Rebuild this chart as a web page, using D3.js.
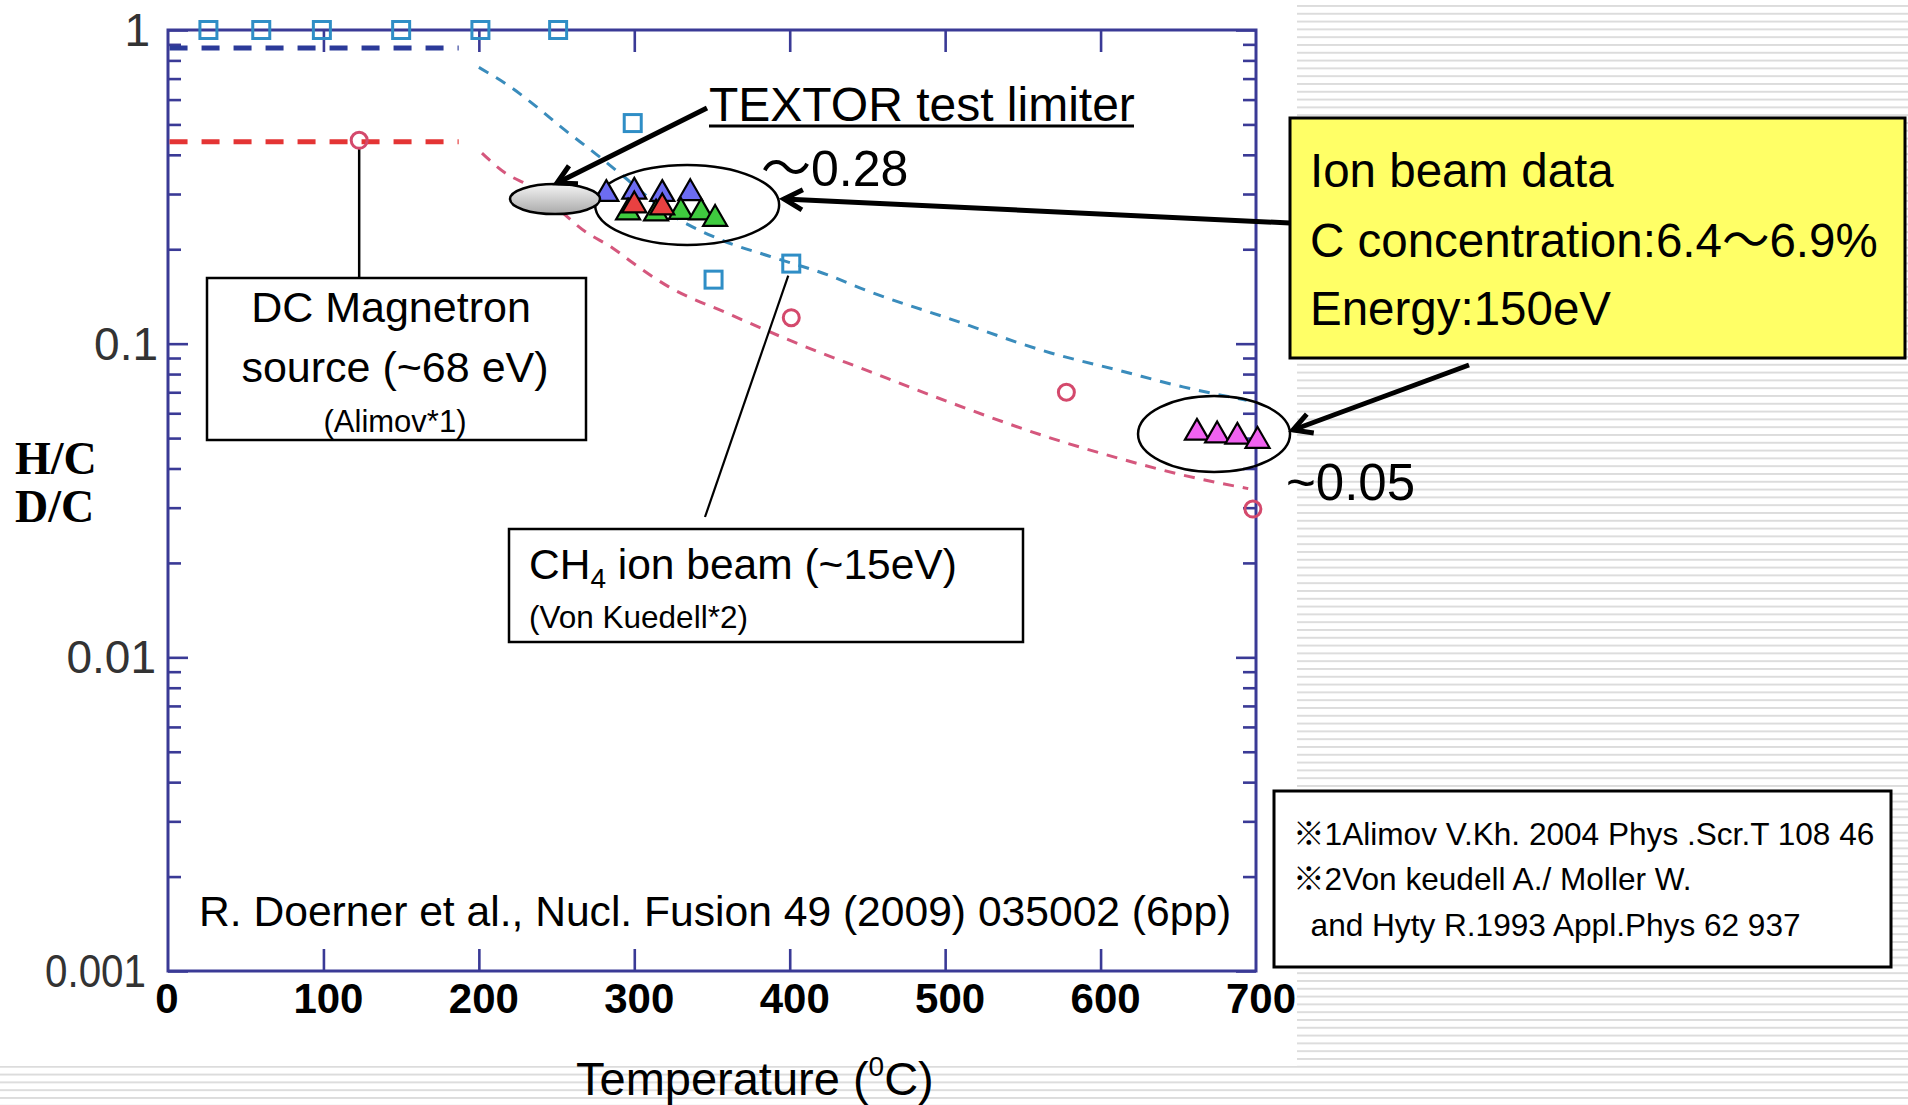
<!DOCTYPE html>
<html>
<head>
<meta charset="utf-8">
<script src="https://cdn.jsdelivr.net/npm/d3@7"></script>
<style>
  html, body { margin: 0; padding: 0; background: #fff; }
  svg { display: block; }
  text { font-family: "Liberation Sans", Arial, "Noto Sans CJK JP", sans-serif; }
</style>
</head>
<body>
<svg id="chart" width="1908" height="1105"></svg>
<script>
// ---------- axis ticks ----------
const xTickValues = [0, 100, 200, 300, 400, 500, 600, 700];
const yTickValues = [1, 0.1, 0.01, 0.001];
const yTickLabels = ["1", "0.1", "0.01", "0.001"];

// ---------- CH4 ion beam data (squares: H/C, circles: D/C) ----------
const squareTemps  = [26, 60, 99, 150, 201, 251, 299, 351, 401];
const squareValues = [1.0, 1.0, 1.0, 1.0, 1.0, 1.0, 0.505, 0.16, 0.18];
const circleTemps  = [123, 401, 578, 698];
const circleValues = [0.445, 0.121, 0.070, 0.0297];

// ---------- DC magnetron levels (flat below 200 C) ----------
const flatTemps  = [1, 187];
const flatHValue = 0.876;
const flatDValue = 0.44;

// ---------- trend curves above 200 C ----------
const upperCurveTemps  = [200, 220, 237, 253, 276, 292, 320, 355, 387, 424, 449, 503, 568, 611, 653, 694];
const upperCurveValues = [0.76, 0.66, 0.57, 0.49, 0.40, 0.345, 0.265, 0.215, 0.19, 0.166, 0.148, 0.12, 0.0934, 0.0824, 0.0728, 0.066];
const lowerCurveTemps  = [202, 217, 234, 270, 286, 299, 322, 360, 401, 450, 503, 568, 611, 653, 695];
const lowerCurveValues = [0.405, 0.35, 0.316, 0.225, 0.202, 0.181, 0.152, 0.125, 0.102, 0.082, 0.065, 0.05, 0.0432, 0.0381, 0.0345];

// ---------- ion beam data (triangles) ----------
const ionBlueTemps     = [282, 300, 318, 336];
const ionBlueValues    = [0.300, 0.305, 0.300, 0.302];
const ionGreenTemps    = [296, 314, 330, 343, 352];
const ionGreenValues   = [0.262, 0.260, 0.263, 0.262, 0.250];
const ionRedTemps      = [300, 318];
const ionRedValues     = [0.276, 0.272];
const ionMagentaTemps  = [662, 675, 688, 701];
const ionMagentaValues = [0.052, 0.051, 0.0505, 0.049];

// ---------- footnotes ----------
const footnoteLines = [
  "※1Alimov V.Kh. 2004 Phys .Scr.T 108 46",
  "※2Von keudell A./ Moller W.",
  "  and Hyty R.1993 Appl.Phys 62 937"
];
const ionBeamLines = ["Ion beam data", "C concentration:6.4～6.9%", "Energy:150eV"];

const svg = d3.select("#chart");
const W = 1908, H = 1105;

const x = d3.scaleLinear().domain([0, 700]).range([168, 1256]);
const y = d3.scaleLog().domain([0.001, 1]).range([971, 30]);

const AXIS = "#3a3a96";

// ---------- defs ----------
const defs = svg.append("defs");
const pat = defs.append("pattern")
  .attr("id", "stripes").attr("patternUnits", "userSpaceOnUse")
  .attr("width", 10).attr("height", 7.8)
  .attr("patternTransform", "translate(0,5)");
pat.append("rect").attr("width", 10).attr("height", 7.8).attr("fill", "#ffffff");
pat.append("rect").attr("width", 10).attr("height", 1.9).attr("fill", "#dcdcdc");

const grad = defs.append("linearGradient").attr("id", "grayfill")
  .attr("x1", 0).attr("y1", 0).attr("x2", 0).attr("y2", 1);
grad.append("stop").attr("offset", "0%").attr("stop-color", "#f4f4f4");
grad.append("stop").attr("offset", "100%").attr("stop-color", "#a9a9a9");

// ---------- background ----------
svg.append("rect").attr("width", W).attr("height", H).attr("fill", "url(#stripes)");
svg.append("rect").attr("x", 0).attr("y", 0).attr("width", 1297).attr("height", 1066).attr("fill", "#fff");

// ---------- frame and ticks ----------
const g = svg.append("g");

const minorVals = [];
[-3, -2, -1].forEach(k => { for (let m = 2; m <= 9; m++) minorVals.push(m * Math.pow(10, k)); });

// left / right axes with inward ticks
g.append("g").attr("transform", `translate(${x(0)},0)`)
  .call(d3.axisRight(y).tickValues(yTickValues).tickSize(20).tickFormat(""));
g.append("g").attr("transform", `translate(${x(0)},0)`)
  .call(d3.axisRight(y).tickValues(minorVals).tickSize(13).tickFormat(""));
g.append("g").attr("transform", `translate(${x(700)},0)`)
  .call(d3.axisLeft(y).tickValues(yTickValues).tickSize(20).tickFormat(""));
g.append("g").attr("transform", `translate(${x(700)},0)`)
  .call(d3.axisLeft(y).tickValues(minorVals).tickSize(13).tickFormat(""));

// top / bottom axes with inward ticks
const innerX = xTickValues.slice(1, -1);
g.append("g").attr("transform", `translate(0,${y(1)})`)
  .call(d3.axisBottom(x).tickValues(innerX).tickSize(22).tickFormat(""));
g.append("g").attr("transform", `translate(0,${y(0.001)})`)
  .call(d3.axisTop(x).tickValues(innerX).tickSize(22).tickFormat(""));

g.selectAll(".domain").remove();
g.selectAll(".tick line").attr("stroke", AXIS).attr("stroke-width", 2.6);

g.append("rect")
  .attr("x", x(0)).attr("y", y(1))
  .attr("width", x(700) - x(0)).attr("height", y(0.001) - y(1))
  .attr("fill", "none").attr("stroke", AXIS).attr("stroke-width", 3);

// tick labels (log axis labels sit slightly unevenly against the frame)
const yLabelRight = [150, 158, 156, 146];
svg.append("g").selectAll("text").data(yTickValues).join("text")
  .attr("x", (d, i) => yLabelRight[i]).attr("y", d => y(d) + 16)
  .attr("text-anchor", "end").attr("font-size", 46).attr("fill", "#333")
  .attr("textLength", (d, i) => i === 3 ? 101 : null)
  .attr("lengthAdjust", "spacingAndGlyphs")
  .text((d, i) => yTickLabels[i]);

svg.append("g").selectAll("text").data(xTickValues).join("text")
  .attr("x", d => x(d) + (d === 0 ? -1 : 5)).attr("y", 1013)
  .attr("text-anchor", "middle").attr("font-size", 42).attr("font-weight", "bold")
  .attr("fill", "#000")
  .text(d => d);

// axis titles
const yt = svg.append("g").attr("font-weight", "bold").attr("font-size", 46).attr("fill", "#000");
yt.append("text").attr("x", 15).attr("y", 474).style("font-family", "'Liberation Serif', 'Times New Roman', serif").text("H/C");
yt.append("text").attr("x", 15).attr("y", 522).style("font-family", "'Liberation Serif', 'Times New Roman', serif").text("D/C");

const xt = svg.append("text").attr("x", 576).attr("y", 1095).attr("font-size", 47).attr("fill", "#000");
xt.append("tspan").text("Temperature (");
xt.append("tspan").attr("font-size", 28).attr("dy", -19).text("0");
xt.append("tspan").attr("dy", 19).text("C)");

// ---------- dashed trend lines ----------
const lineGen = d3.line().x(d => x(d[0])).y(d => y(d[1]));
const smooth = d3.line().x(d => x(d[0])).y(d => y(d[1])).curve(d3.curveMonotoneX);

svg.append("path").datum(flatTemps.map(t => [t, flatHValue]))
  .attr("d", lineGen).attr("fill", "none").attr("stroke", "#2b3a99")
  .attr("stroke-width", 5).attr("stroke-dasharray", "18,14");
svg.append("path").datum(flatTemps.map(t => [t, flatDValue]))
  .attr("d", lineGen).attr("fill", "none").attr("stroke", "#e43434")
  .attr("stroke-width", 5).attr("stroke-dasharray", "18,14");

svg.append("path").datum(upperCurveTemps.map((t, i) => [t, upperCurveValues[i]]))
  .attr("d", smooth).attr("fill", "none").attr("stroke", "#3a8cbc")
  .attr("stroke-width", 3).attr("stroke-dasharray", "11,9");
svg.append("path").datum(lowerCurveTemps.map((t, i) => [t, lowerCurveValues[i]]))
  .attr("d", smooth).attr("fill", "none").attr("stroke", "#d5577d")
  .attr("stroke-width", 3).attr("stroke-dasharray", "11,9");

// ---------- leader lines for source boxes ----------
svg.append("line")
  .attr("x1", x(circleTemps[0])).attr("y1", y(circleValues[0]) + 8)
  .attr("x2", x(circleTemps[0])).attr("y2", 278)
  .attr("stroke", "#000").attr("stroke-width", 2.5);
svg.append("line")
  .attr("x1", 705).attr("y1", 517)
  .attr("x2", x(squareTemps[8]) - 3).attr("y2", y(squareValues[8]) + 12)
  .attr("stroke", "#000").attr("stroke-width", 2.2);

// ---------- markers ----------
const SQ = 17;
svg.append("g").selectAll("rect").data(squareTemps).join("rect")
  .attr("x", (d) => x(d) - SQ / 2)
  .attr("y", (d, i) => y(squareValues[i]) - SQ / 2)
  .attr("width", SQ).attr("height", SQ)
  .attr("fill", "none").attr("stroke", "#2f8ec6").attr("stroke-width", 3);

svg.append("g").selectAll("circle").data(circleTemps).join("circle")
  .attr("cx", d => x(d)).attr("cy", (d, i) => y(circleValues[i]))
  .attr("r", 8)
  .attr("fill", "none").attr("stroke", "#d4496c").attr("stroke-width", 3);

// enclosing ellipse for ion beam cluster near 300 C
svg.append("ellipse")
  .attr("cx", x(334)).attr("cy", y(0.277)).attr("rx", 92).attr("ry", 40)
  .attr("fill", "none").attr("stroke", "#000").attr("stroke-width", 2.5);

const tri = d3.symbol().type(d3.symbolTriangle).size(250);
function triangles(temps, vals, fill) {
  svg.append("g").selectAll("path").data(temps).join("path")
    .attr("d", tri)
    .attr("transform", (d, i) => `translate(${x(d)},${y(vals[i])})`)
    .attr("fill", fill).attr("stroke", "#000").attr("stroke-width", 2.2)
    .attr("stroke-linejoin", "miter");
}
triangles(ionBlueTemps, ionBlueValues, "#6c6cf2");
triangles(ionGreenTemps, ionGreenValues, "#3fcb3f");
triangles(ionRedTemps, ionRedValues, "#e94141");

// TEXTOR limiter marker
svg.append("ellipse")
  .attr("cx", x(249)).attr("cy", y(0.289)).attr("rx", 45).attr("ry", 15)
  .attr("fill", "url(#grayfill)").attr("stroke", "#000").attr("stroke-width", 2.5);

// 700 C cluster
svg.append("ellipse")
  .attr("cx", x(673)).attr("cy", y(0.0515)).attr("rx", 76).attr("ry", 38)
  .attr("fill", "none").attr("stroke", "#000").attr("stroke-width", 2.5);
triangles(ionMagentaTemps, ionMagentaValues, "#f062f0");

// ---------- boxes ----------
svg.append("rect").attr("x", 207).attr("y", 278).attr("width", 379).attr("height", 162)
  .attr("fill", "#fff").attr("stroke", "#000").attr("stroke-width", 2.5);
const dc = svg.append("g").attr("text-anchor", "middle").attr("fill", "#000");
dc.append("text").attr("x", 391).attr("y", 322).attr("font-size", 43).text("DC Magnetron");
dc.append("text").attr("x", 395).attr("y", 382).attr("font-size", 43).text("source (~68 eV)");
dc.append("text").attr("x", 395).attr("y", 432).attr("font-size", 31).text("(Alimov*1)");

svg.append("rect").attr("x", 509).attr("y", 529).attr("width", 514).attr("height", 113)
  .attr("fill", "#fff").attr("stroke", "#000").attr("stroke-width", 2.5);
const ch = svg.append("text").attr("x", 529).attr("y", 579).attr("font-size", 42.5).attr("fill", "#000");
ch.append("tspan").text("CH");
ch.append("tspan").attr("font-size", 28).attr("dy", 9).text("4");
ch.append("tspan").attr("dy", -9).text(" ion beam (~15eV)");
svg.append("text").attr("x", 529).attr("y", 628).attr("font-size", 31.5).text("(Von Kuedell*2)");

svg.append("rect").attr("x", 1290).attr("y", 118).attr("width", 615).attr("height", 240)
  .attr("fill", "#ffff66").attr("stroke", "#000").attr("stroke-width", 3);
svg.append("g").selectAll("text").data(ionBeamLines).join("text")
  .attr("x", 1310).attr("y", (d, i) => [187, 257, 325][i])
  .attr("font-size", 47.5).attr("fill", "#000").text(d => d);

svg.append("rect").attr("x", 1274).attr("y", 791).attr("width", 617).attr("height", 176)
  .attr("fill", "#fff").attr("stroke", "#000").attr("stroke-width", 3);
svg.append("g").selectAll("text").data(footnoteLines).join("text")
  .attr("x", 1293).attr("y", (d, i) => [845, 890, 936][i])
  .attr("font-size", 31.6).attr("fill", "#000")
  .style("white-space", "pre")
  .text(d => d);

// ---------- labels ----------
svg.append("text").attr("x", 709).attr("y", 121).attr("font-size", 48).attr("fill", "#000")
  .text("TEXTOR test limiter");
svg.append("line").attr("x1", 709).attr("x2", 1134).attr("y1", 126).attr("y2", 126)
  .attr("stroke", "#000").attr("stroke-width", 3);

svg.append("text").attr("x", 761).attr("y", 186).attr("font-size", 50).attr("fill", "#000").text("～0.28");
svg.append("text").attr("x", 1286).attr("y", 500).attr("font-size", 51).attr("fill", "#000").text("~0.05");

svg.append("text").attr("x", 199).attr("y", 926).attr("font-size", 42.6).attr("fill", "#000")
  .text("R. Doerner et al., Nucl. Fusion 49 (2009) 035002 (6pp)");

// ---------- arrows ----------
function arrow(x1, y1, x2, y2) {
  const a = Math.atan2(y1 - y2, x1 - x2);
  const L = 21, s = 0.5;
  svg.append("line").attr("x1", x1).attr("y1", y1).attr("x2", x2).attr("y2", y2)
    .attr("stroke", "#000").attr("stroke-width", 5);
  svg.append("path")
    .attr("d", `M${x2 + L * Math.cos(a + s)},${y2 + L * Math.sin(a + s)} L${x2},${y2} L${x2 + L * Math.cos(a - s)},${y2 + L * Math.sin(a - s)}`)
    .attr("fill", "none").attr("stroke", "#000").attr("stroke-width", 5)
    .attr("stroke-linejoin", "miter").attr("stroke-linecap", "butt");
}
arrow(707, 108, 557, 183);
arrow(1290, 223, 784, 199);
arrow(1469, 365, 1293, 430);
</script>
</body>
</html>
